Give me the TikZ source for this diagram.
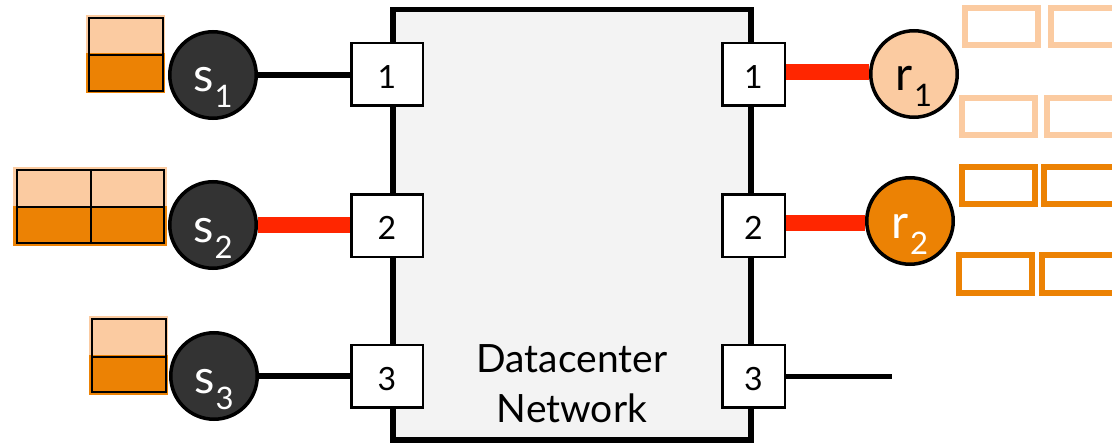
\documentclass[tikz,border=0pt]{standalone}
\usepackage{fontspec}
\setmainfont{Lato}

\definecolor{peach}{HTML}{FBCBA1}
\definecolor{amber}{HTML}{EC8204}
\definecolor{linkred}{HTML}{FF2600}
\definecolor{hostgray}{HTML}{333333}
\definecolor{netgray}{HTML}{F3F3F3}

% host name with a lowered index
\newcommand{\hostlabel}[2]{#1\kern1pt\raisebox{-16pt}{\fontsize{31}{31}\selectfont #2}}

\tikzset{
  netbox/.style={draw, line width=5.5pt, fill=netgray, rectangle,
    minimum width=358pt, minimum height=430.5pt, inner sep=0pt},
  inport/.style={draw, line width=2.5pt, fill=white, rectangle,
    minimum width=71.5pt, minimum height=62.5pt, inner sep=0pt,
    text height=28pt, text depth=0pt, font=\fontsize{32}{32}\selectfont},
  outport/.style={inport, minimum width=62.5pt},
  sender/.style={circle, draw, line width=3.5pt, fill=hostgray,
    minimum size=86.5pt, inner sep=0pt},
  receiver/.style={circle, draw, line width=3.5pt,
    minimum size=86.5pt, inner sep=0pt},
  hostname/.style={anchor=base, yshift=-17pt, inner sep=0pt,
    font=\fontsize{47}{47}\selectfont},
  plainlink/.style={line width=6pt},
  hotlink/.style={draw=linkred, line width=15.5pt},
  pkt/.style={draw, line width=1.5pt},
  slot/.style={line width=6pt},
}

\begin{document}
\begin{tikzpicture}[x=1pt, y=-1pt]
\useasboundingbox (0,0) rectangle (1112,444);

% the network and its ports
\node[netbox] (dc) at (572,224.75) {};
\node[font=\fontsize{39}{50}\selectfont, align=center] (dctext) at (572,384) {Datacenter\\Network};

\node[inport] (lp1) at (387,74.5) {1};
\node[inport] (lp2) at (387,225.5) {2};
\node[inport] (lp3) at (387,376) {3};
\node[outport] (rp1) at (753.5,74.5) {1};
\node[outport] (rp2) at (753.5,225.5) {2};
\node[outport] (rp3) at (753.5,376) {3};

% senders
\node[sender] (s1) at (213,75) {};
\node[sender] (s2) at (213,225) {};
\node[sender] (s3) at (214,376) {};
\node[hostname, text=white] (s1t) at (s1) {\hostlabel{s}{1}};
\node[hostname, text=white] (s2t) at (s2) {\hostlabel{s}{2}};
\node[hostname, text=white] (s3t) at (s3) {\hostlabel{s}{3}};

% receivers
\node[receiver, fill=peach] (r1) at (914,74) {};
\node[receiver, fill=amber] (r2) at (910,221) {};
\node[hostname, text=black] (r1t) at (r1) {\hostlabel{r}{1}};
\node[hostname, text=white] (r2t) at (r2) {\hostlabel{r}{2}};

% links
\coordinate (open3) at (892,376);
\draw[plainlink] (s1.east) -- (lp1.west |- s1.east);
\draw[hotlink] (s2.east) -- (lp2.west |- s2.east);
\draw[plainlink] (s3.east) -- (lp3.west |- s3.east);
\draw[hotlink] ([yshift=2.5pt]rp1.east) -- ([yshift=2pt]r1.west);
\draw[hotlink] ([yshift=2.5pt]rp2.east) -- ([yshift=-2pt]r2.west);
\draw[plainlink, line width=5pt] (rp3.east) -- (open3);

% queued packets at the senders
\fill[peach] (86,15) rectangle (165,53);
\fill[amber] (86,53) rectangle (165,93);
\draw[pkt] (89,18) rectangle (163,55);
\draw[pkt] (89,55) rectangle (163,91);

\fill[peach] (13,167) rectangle (167,206);
\fill[amber] (13,206) rectangle (167,246);
\draw[pkt] (17,170) rectangle (91,207);
\draw[pkt] (91,170) rectangle (164,207);
\draw[pkt] (17,207) rectangle (91,243);
\draw[pkt] (91,207) rectangle (164,243);

\fill[peach] (89,316) rectangle (168,355);
\fill[amber] (89,355) rectangle (168,395);
\draw[pkt] (92,319) rectangle (166,357);
\draw[pkt] (92,357) rectangle (166,392);

% empty slots at the receivers
\draw[slot, peach] (965,8) rectangle (1038,45);
\draw[slot, peach] (1051,8) rectangle (1124,45);
\draw[slot, peach] (962,98) rectangle (1035,135);
\draw[slot, peach] (1047,98) rectangle (1120,135);
\draw[slot, amber] (962,167) rectangle (1035,204);
\draw[slot, amber] (1044,167) rectangle (1117,204);
\draw[slot, amber] (959,255) rectangle (1032,293);
\draw[slot, amber] (1042,255) rectangle (1115,293);
\end{tikzpicture}
\end{document}
